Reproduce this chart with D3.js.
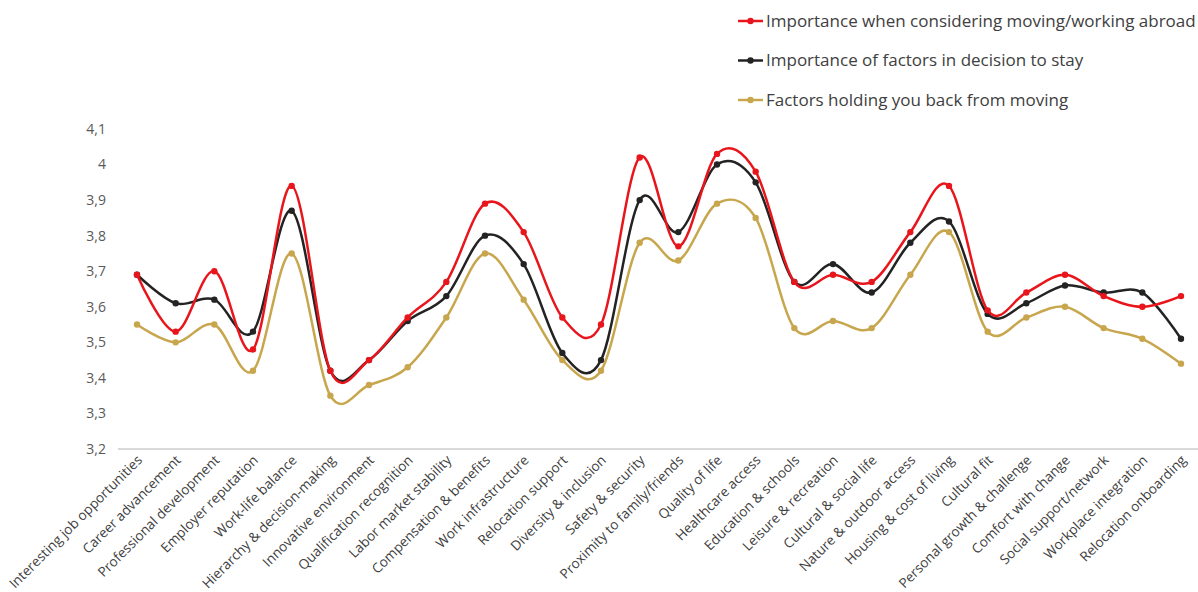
<!DOCTYPE html>
<html>
<head>
<meta charset="utf-8">
<script src="https://cdn.jsdelivr.net/npm/d3@7"></script>
<style>
  body { margin: 0; background: #fff; }
  svg { display: block; font-family: "Open Sans", "Noto Sans", sans-serif; }
</style>
</head>
<body>
<div id="chart"></div>
<script>
const categories = [
  "Interesting job opportunities", "Career advancement", "Professional development",
  "Employer reputation", "Work-life balance", "Hierarchy & decision-making",
  "Innovative environment", "Qualification recognition", "Labor market stability",
  "Compensation & benefits", "Work infrastructure", "Relocation support",
  "Diversity & inclusion", "Safety & security", "Proximity to family/friends",
  "Quality of life", "Healthcare access", "Education & schools",
  "Leisure & recreation", "Cultural & social life", "Nature & outdoor access",
  "Housing & cost of living", "Cultural fit", "Personal growth & challenge",
  "Comfort with change", "Social support/network", "Workplace integration",
  "Relocation onboarding"
];

const movingAbroad = [3.69, 3.53, 3.70, 3.48, 3.94, 3.42, 3.45, 3.57, 3.67, 3.89, 3.81, 3.57, 3.55, 4.02,
  3.77, 4.03, 3.98, 3.67, 3.69, 3.67, 3.81, 3.94, 3.59, 3.64, 3.69, 3.63, 3.60, 3.63];
const decisionToStay = [3.69, 3.61, 3.62, 3.53, 3.87, 3.42, 3.45, 3.56, 3.63, 3.80, 3.72, 3.47, 3.45, 3.90,
  3.81, 4.00, 3.95, 3.67, 3.72, 3.64, 3.78, 3.84, 3.58, 3.61, 3.66, 3.64, 3.64, 3.51];
const holdingBack = [3.55, 3.50, 3.55, 3.42, 3.75, 3.35, 3.38, 3.43, 3.57, 3.75, 3.62, 3.45, 3.42, 3.78,
  3.73, 3.89, 3.85, 3.54, 3.56, 3.54, 3.69, 3.81, 3.53, 3.57, 3.60, 3.54, 3.51, 3.44];

const yTicks = [3.2, 3.3, 3.4, 3.5, 3.6, 3.7, 3.8, 3.9, 4.0, 4.1];

const seriesNames = [
  "Importance when considering moving/working abroad",
  "Importance of factors in decision to stay",
  "Factors holding you back from moving"
];
const seriesColors = ["#e8161c", "#232323", "#c7a64d"];
const seriesValues = [movingAbroad, decisionToStay, holdingBack];

const width = 1198, height = 592;
const svg = d3.select("#chart").append("svg")
  .attr("width", width).attr("height", height);

const x = d3.scalePoint().domain(categories).range([137, 1181]);
const y = d3.scaleLinear().domain([3.2, 4.1]).range([449, 129]);

// y tick labels (no axis line)
svg.append("g").selectAll("text")
  .data(yTicks).enter().append("text")
  .attr("x", 106)
  .attr("y", d => y(d))
  .attr("dy", "0.35em")
  .attr("text-anchor", "end")
  .style("font-size", "14px")
  .style("fill", "#595959")
  .text(d => d3.format(".1~f")(d).replace(".", ","));

// x axis baseline
svg.append("line")
  .attr("x1", 118).attr("x2", 1200)
  .attr("y1", y(3.2)).attr("y2", y(3.2))
  .attr("stroke", "#d9d9d9").attr("stroke-width", 2);

// x labels, rotated
svg.append("g").selectAll("text")
  .data(categories).enter().append("text")
  .attr("text-anchor", "end")
  .attr("transform", d => `translate(${x(d) + 6},${y(3.2) + 12}) rotate(-45)`)
  .style("font-size", "13.6px")
  .style("fill", "#404040")
  .text(d => d);

const line = d3.line()
  .x((d, i) => x(categories[i]))
  .y(d => y(d))
  .curve(d3.curveCardinal.tension(0));

// draw back-to-front: gold, black, red
[2, 1, 0].forEach(s => {
  const g = svg.append("g");
  g.append("path")
    .datum(seriesValues[s])
    .attr("d", line)
    .attr("fill", "none")
    .attr("stroke", seriesColors[s])
    .attr("stroke-width", 2.5);
  g.selectAll("circle")
    .data(seriesValues[s]).enter().append("circle")
    .attr("cx", (d, i) => x(categories[i]))
    .attr("cy", d => y(d))
    .attr("r", 3.2)
    .attr("fill", seriesColors[s]);
});

// legend
const legend = svg.append("g");
seriesNames.forEach((name, i) => {
  const ly = 21 + i * 39.5;
  legend.append("line")
    .attr("x1", 738).attr("x2", 763)
    .attr("y1", ly).attr("y2", ly)
    .attr("stroke", seriesColors[i]).attr("stroke-width", 2.5);
  legend.append("circle")
    .attr("cx", 750.5).attr("cy", ly).attr("r", 3.2)
    .attr("fill", seriesColors[i]);
  legend.append("text")
    .attr("x", 766).attr("y", ly)
    .attr("dy", "0.35em")
    .style("font-size", "17px")
    .style("fill", "#404040")
    .text(name);
});
</script>
</body>
</html>
